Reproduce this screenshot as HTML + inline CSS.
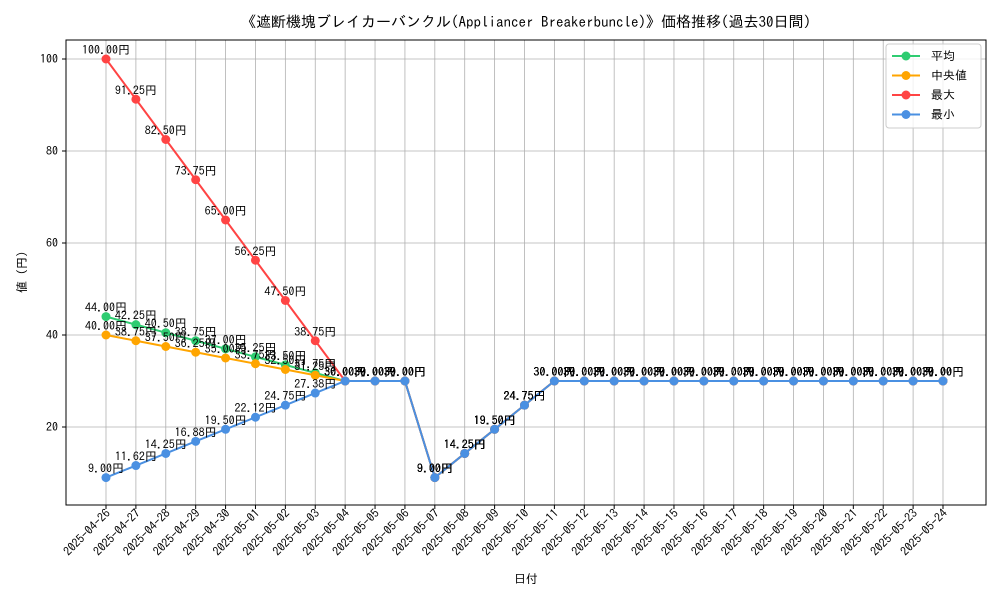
<!DOCTYPE html>
<html><head><meta charset="utf-8">
<style>
body{margin:0;background:#fff;}
svg text{font-family:"IPAGothic","Noto Sans CJK JP",monospace;}
</style></head>
<body>
<svg id="chart" width="1000" height="600" xmlns="http://www.w3.org/2000/svg">
<rect x="0" y="0" width="1000" height="600" fill="#fff"/>
<text x="526" y="27" text-anchor="middle" font-size="15">《遮断機塊ブレイカーバンクル(Appliancer Breakerbuncle)》価格推移(過去30日間)</text>
<g id="grid"></g>
<g id="axes"></g>
<g id="series"></g>
<g id="labels"></g>
<rect x="66" y="40" width="920" height="465" fill="none" stroke="#000" stroke-width="1"/>
<text x="526" y="583" text-anchor="middle" font-size="12">日付</text>
<text x="26" y="272" text-anchor="middle" font-size="12" transform="rotate(-90 26 272)">値 (円)</text>
<g id="legend">
<rect x="886" y="44" width="95" height="84" rx="3" fill="#fff" fill-opacity="0.8" stroke="#ccc"/>
</g>
</svg>
<script>
const dates=["2025-04-26","2025-04-27","2025-04-28","2025-04-29","2025-04-30","2025-05-01","2025-05-02","2025-05-03","2025-05-04","2025-05-05","2025-05-06","2025-05-07","2025-05-08","2025-05-09","2025-05-10","2025-05-11","2025-05-12","2025-05-13","2025-05-14","2025-05-15","2025-05-16","2025-05-17","2025-05-18","2025-05-19","2025-05-20","2025-05-21","2025-05-22","2025-05-23","2025-05-24"];
const avgVals=[44,42.25,40.5,38.75,37,35.25,33.5,31.75,30,30,30,9,14.25,19.5,24.75,30,30,30,30,30,30,30,30,30,30,30,30,30,30];
const medVals=[40,38.75,37.5,36.25,35,33.75,32.5,31.25,30,30,30,9,14.25,19.5,24.75,30,30,30,30,30,30,30,30,30,30,30,30,30,30];
const maxVals=[100,91.25,82.5,73.75,65,56.25,47.5,38.75,30,30,30,9,14.25,19.5,24.75,30,30,30,30,30,30,30,30,30,30,30,30,30,30];
const minVals=[9,11.62,14.25,16.88,19.5,22.12,24.75,27.38,30,30,30,9,14.25,19.5,24.75,30,30,30,30,30,30,30,30,30,30,30,30,30,30];
const yTicks=[20,40,60,80,100];
const seriesNames=["平均","中央値","最大","最小"];
const NS="http://www.w3.org/2000/svg";
const X=i=>106+i*(943-106)/28;
const Y=v=>519-v*4.6;
function mk(tag,attrs,parent){const e=document.createElementNS(NS,tag);for(const k in attrs)e.setAttribute(k,attrs[k]);parent.appendChild(e);return e;}
const grid=document.getElementById('grid'),axes=document.getElementById('axes'),ser=document.getElementById('series'),lab=document.getElementById('labels'),leg=document.getElementById('legend');
yTicks.forEach(t=>{
 const g=mk('line',{x1:66,x2:986,y1:Y(t),y2:Y(t),stroke:'#b0b0b0','stroke-width':0.8},grid);
 
 
 mk('line',{x1:62,x2:66,y1:Y(t),y2:Y(t),stroke:'#000'},axes);
 const tx=mk('text',{x:58,y:Y(t)+4,'text-anchor':'end','font-size':12},axes);
 tx.textContent=t;
 
 
});
dates.forEach((d,i)=>{
 const g=mk('line',{x1:X(i),x2:X(i),y1:40,y2:505,stroke:'#b0b0b0','stroke-width':0.8},grid);
 
 
 mk('line',{x1:X(i),x2:X(i),y1:505,y2:509,stroke:'#000'},axes);
 const tx=mk('text',{x:X(i)+5,y:514,'text-anchor':'end','font-size':12,transform:`rotate(-45 ${X(i)+5} 514)`},axes);
 tx.textContent=d;
 
 
});
const all=[[avgVals,'#2ecc71','avg'],[medVals,'#ffa500','median'],[maxVals,'#ff4444','max'],[minVals,'#4a90e2','min']];
all.forEach(([vals,col,nm])=>{
 const p=mk('polyline',{points:vals.map((v,i)=>X(i)+','+Y(v)).join(' '),fill:'none',stroke:col,'stroke-width':2},ser);
 
 
 vals.forEach((v,i)=>{
  const c=mk('circle',{cx:X(i),cy:Y(v),r:4.5,fill:col},ser);
  
  
  const t=mk('text',{x:X(i),y:Y(v)-5,'text-anchor':'middle','font-size':12},lab);
  t.textContent=v.toFixed(2)+'円';
  
  
 });
});
all.forEach(([vals,col,nm],k)=>{
 const y=56+k*19.5;
 mk('line',{x1:892,x2:920,y1:y,y2:y,stroke:col,'stroke-width':2},leg);
 mk('circle',{cx:906,cy:y,r:4.5,fill:col},leg);
 const t=mk('text',{x:931,y:y+4,'font-size':12},leg);
 t.textContent=(k==1?' ':'')+seriesNames[k];
 
 
});
</script>
</body></html>
